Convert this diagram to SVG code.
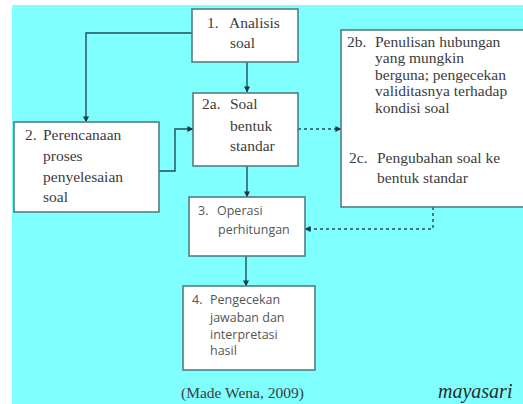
<svg xmlns="http://www.w3.org/2000/svg" width="523" height="404" viewBox="0 0 523 404">
<defs>
<marker id="ah" viewBox="0 0 8 8" refX="7.5" refY="4" markerWidth="6" markerHeight="6" markerUnits="userSpaceOnUse" orient="auto">
<path d="M0,0 L8,4 L0,8 z" fill="#123c44"/>
</marker>
<style>
.box{fill:#ffffff;stroke:#4f7f86;stroke-width:1.6}
.ser{font-family:"Liberation Serif","Times New Roman",serif;font-size:15.5px;fill:#3c3c3c}
.san{font-family:"Open Sans","Liberation Sans",sans-serif;font-size:12.5px;fill:#555555}
.con{fill:none;stroke:#1d5058;stroke-width:1.4;marker-end:url(#ah)}
.dash{stroke-dasharray:3,3}
</style>
</defs>
<rect x="0" y="0" width="523" height="404" fill="#ffffff"/>
<rect x="12" y="5" width="511" height="399" fill="#80ffff"/>

<g id="connectors">
<path class="con" d="M192,33 H86 V122"/>
<path class="con" d="M247,62 V92"/>
<path class="con" d="M159,171 H175 V129 H193"/>
<path class="con dash" d="M298,129 H341"/>
<path class="con" d="M247,166 V197"/>
<path class="con dash" d="M433,207 V229 H305"/>
<path class="con" d="M246,256 V286"/>
</g>

<g id="n1">
<rect class="box" x="192" y="9" width="106" height="53"/>
<text class="ser" x="207" y="28">1.</text>
<text class="ser" x="229" y="28">Analisis</text>
<text class="ser" x="230" y="48">soal</text>
</g>

<g id="n2">
<rect class="box" x="14" y="122" width="145" height="90"/>
<text class="ser" x="25" y="140">2.</text>
<text class="ser" x="43" y="140">Perencanaan</text>
<text class="ser" x="43" y="161">proses</text>
<text class="ser" x="43" y="182">penyelesaian</text>
<text class="ser" x="43" y="202">soal</text>
</g>

<g id="n2a">
<rect class="box" x="193" y="93" width="105" height="73"/>
<text class="ser" x="202" y="109">2a.</text>
<text class="ser" x="230" y="109">Soal</text>
<text class="ser" x="230" y="131">bentuk</text>
<text class="ser" x="230" y="151">standar</text>
</g>

<g id="n2b">
<rect class="box" x="341" y="30" width="186" height="177"/>
<text class="ser" x="347" y="47">2b.</text>
<text class="ser" x="375" y="47">Penulisan hubungan</text>
<text class="ser" x="375" y="63">yang mungkin</text>
<text class="ser" x="375" y="80">berguna; pengecekan</text>
<text class="ser" x="375" y="96">validitasnya terhadap</text>
<text class="ser" x="375" y="113">kondisi soal</text>
<text class="ser" x="349" y="163">2c.</text>
<text class="ser" x="377" y="163">Pengubahan soal ke</text>
<text class="ser" x="377" y="183">bentuk standar</text>
</g>

<g id="n3">
<rect class="box" x="189" y="197" width="116" height="59"/>
<text class="san" x="198" y="215">3.</text>
<text class="san" x="217" y="215">Operasi</text>
<text class="san" x="218" y="234">perhitungan</text>
</g>

<g id="n4">
<rect class="box" x="183" y="286" width="132" height="84"/>
<text class="san" x="192" y="304">4.</text>
<text class="san" x="210" y="304">Pengecekan</text>
<text class="san" x="210" y="322">jawaban dan</text>
<text class="san" x="210" y="339">interpretasi</text>
<text class="san" x="210" y="355">hasil</text>
</g>

<text class="ser" x="181" y="398">(Made Wena, 2009)</text>
<text x="438" y="398" font-family="Liberation Serif,serif" font-style="italic" font-size="20px" fill="#2a2a2a">mayasari</text>
</svg>
